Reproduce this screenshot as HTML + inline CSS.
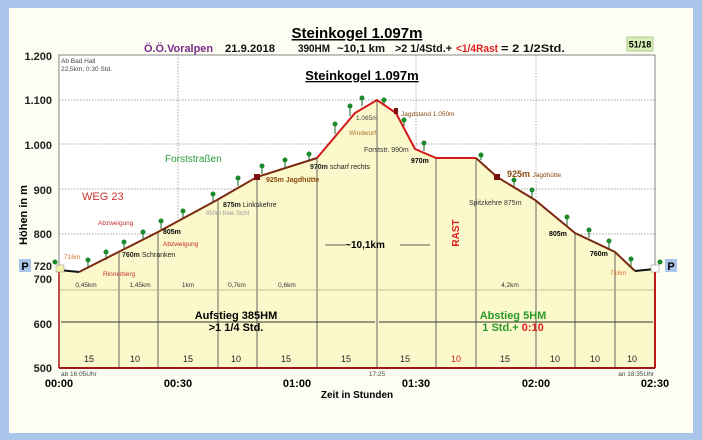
<!DOCTYPE html>
<html><head><meta charset="utf-8"><style>
html,body{margin:0;padding:0;background:#a9c6ea;}
svg{display:block;font-family:"Liberation Sans",sans-serif;}
</style></head><body>
<svg width="702" height="440" viewBox="0 0 702 440" xmlns="http://www.w3.org/2000/svg">
<rect x="0" y="0" width="702" height="440" fill="#a9c6ea"/>
<rect x="9" y="8" width="684" height="425" fill="#fdfdf3"/>
<rect x="59" y="55" width="596" height="313" fill="#fff" stroke="#666" stroke-width="0.8"/>
<g stroke="#888" stroke-width="0.7" stroke-dasharray="1.5,1.5">
<line x1="59" y1="100" x2="655" y2="100"/>
<line x1="59" y1="144" x2="655" y2="144"/>
<line x1="59" y1="189" x2="655" y2="189"/>
<line x1="59" y1="234" x2="655" y2="234"/>
<line x1="178" y1="55" x2="178" y2="368"/>
<line x1="416" y1="55" x2="416" y2="368"/>
<line x1="536" y1="55" x2="536" y2="368"/>
</g>
<polygon fill="#fbf8cb" points="59,270 79,272 158,232 217,200 257,177 317,158 355,113 377,100 396,113 415,149 436,158 476,158 497,177 535,200 575,233 615,252 635,271 655,269 655,368 59,368"/>
<g stroke="#555" stroke-width="0.9">
<line x1="119" y1="252" x2="119" y2="368"/>
<line x1="158" y1="232" x2="158" y2="368"/>
<line x1="218" y1="200" x2="218" y2="368"/>
<line x1="257" y1="177" x2="257" y2="368"/>
<line x1="317" y1="158" x2="317" y2="368"/>
<line x1="377" y1="100" x2="377" y2="368"/>
<line x1="436" y1="158" x2="436" y2="368"/>
<line x1="476" y1="158" x2="476" y2="368"/>
<line x1="536" y1="201" x2="536" y2="368"/>
<line x1="575" y1="233" x2="575" y2="368"/>
<line x1="615" y1="252" x2="615" y2="368"/>
</g>
<line x1="59" y1="290" x2="655" y2="290" stroke="#b5b08a" stroke-width="0.8"/>
<line x1="61" y1="322" x2="375" y2="322" stroke="#333" stroke-width="0.9"/>
<line x1="379" y1="322" x2="653" y2="322" stroke="#333" stroke-width="0.9"/>
<g stroke="#1a6a2a" stroke-width="1">
<line x1="88" y1="260" x2="88" y2="268"/><line x1="106" y1="252" x2="106" y2="260"/><line x1="124" y1="242" x2="124" y2="250"/><line x1="143" y1="232" x2="143" y2="240"/><line x1="161" y1="221" x2="161" y2="229"/><line x1="183" y1="211" x2="183" y2="219"/><line x1="213" y1="194" x2="213" y2="202"/><line x1="238" y1="178" x2="238" y2="186"/><line x1="262" y1="166" x2="262" y2="174"/><line x1="285" y1="160" x2="285" y2="168"/><line x1="309" y1="154" x2="309" y2="161"/><line x1="335" y1="124" x2="335" y2="134"/><line x1="350" y1="106" x2="350" y2="116"/><line x1="362" y1="98" x2="362" y2="106"/><line x1="384" y1="100" x2="384" y2="106"/><line x1="404" y1="120" x2="404" y2="126"/><line x1="424" y1="143" x2="424" y2="151"/><line x1="481" y1="155" x2="481" y2="160"/><line x1="514" y1="180" x2="514" y2="187"/><line x1="532" y1="190" x2="532" y2="197"/><line x1="567" y1="217" x2="567" y2="226"/><line x1="589" y1="230" x2="589" y2="238"/><line x1="609" y1="241" x2="609" y2="249"/><line x1="631" y1="259" x2="631" y2="267"/>
</g>
<polyline fill="none" stroke="#111" stroke-width="2" points="59,270 79,272"/>
<polyline fill="none" stroke="#7a2a10" stroke-width="2" points="79,272 158,232 217,200 257,177 317,158"/>
<polyline fill="none" stroke="#d21818" stroke-width="2" points="317,158 355,113 377,100 396,113 415,149 436,158 476,158"/>
<polyline fill="none" stroke="#7a2a10" stroke-width="2" points="476,158 497,177 535,200 575,233 615,252 635,271"/>
<polyline fill="none" stroke="#111" stroke-width="2" points="635,271 655,269"/>
<line x1="655" y1="269" x2="655" y2="368" stroke="#c01818" stroke-width="2"/>
<line x1="59" y1="270" x2="59" y2="368" stroke="#a01818" stroke-width="1.5"/>
<line x1="59" y1="368" x2="655" y2="368" stroke="#a01818" stroke-width="2"/>
<rect x="254" y="174" width="6" height="6" fill="#7a1010"/>
<rect x="494" y="174" width="6" height="6" fill="#7a1010"/>
<rect x="394" y="108" width="4" height="6" fill="#7a1010"/>
<rect x="56" y="265" width="8" height="7" fill="#f5f0b0" stroke="#888" stroke-width="0.5"/>
<rect x="651" y="265" width="8" height="7" fill="#fff" stroke="#888" stroke-width="0.5"/>
<g fill="#1a8a2a">
<circle cx="88" cy="260" r="2.5"/><circle cx="106" cy="252" r="2.5"/><circle cx="124" cy="242" r="2.5"/><circle cx="143" cy="232" r="2.5"/><circle cx="161" cy="221" r="2.5"/><circle cx="183" cy="211" r="2.5"/><circle cx="213" cy="194" r="2.5"/><circle cx="238" cy="178" r="2.5"/><circle cx="262" cy="166" r="2.5"/><circle cx="285" cy="160" r="2.5"/><circle cx="309" cy="154" r="2.5"/><circle cx="335" cy="124" r="2.5"/><circle cx="350" cy="106" r="2.5"/><circle cx="362" cy="98" r="2.5"/><circle cx="384" cy="100" r="2.5"/><circle cx="404" cy="120" r="2.5"/><circle cx="424" cy="143" r="2.5"/><circle cx="481" cy="155" r="2.5"/><circle cx="514" cy="180" r="2.5"/><circle cx="532" cy="190" r="2.5"/><circle cx="567" cy="217" r="2.5"/><circle cx="589" cy="230" r="2.5"/><circle cx="609" cy="241" r="2.5"/><circle cx="631" cy="259" r="2.5"/><circle cx="660" cy="262" r="2.5"/><circle cx="55" cy="262" r="2.5"/>
</g>
<text x="357" y="38" font-size="15" font-weight="bold" text-anchor="middle" text-decoration="underline">Steinkogel 1.097m</text>
<g font-size="11" font-weight="bold" fill="#111">
<text x="144" y="52" fill="#7a2a8a" textLength="69" lengthAdjust="spacingAndGlyphs">Ö.Ö.Voralpen</text>
<text x="225" y="52" textLength="50" lengthAdjust="spacingAndGlyphs">21.9.2018</text>
<text x="298" y="52" textLength="32" lengthAdjust="spacingAndGlyphs">390HM</text>
<text x="337" y="52" textLength="48" lengthAdjust="spacingAndGlyphs">~10,1 km</text>
<text x="395" y="52" textLength="57" lengthAdjust="spacingAndGlyphs">&gt;2 1/4Std.+</text>
<text x="456" y="52" fill="#e02020" textLength="42" lengthAdjust="spacingAndGlyphs">&lt;1/4Rast</text>
<text x="501" y="52" textLength="64" lengthAdjust="spacingAndGlyphs">= 2 1/2Std.</text>
</g>
<rect x="627" y="37" width="26" height="14" fill="#d8f0b8" stroke="#9ab870" stroke-width="0.8" rx="1"/>
<text x="640" y="47.5" font-size="9" font-weight="bold" text-anchor="middle">51/18</text>
<text x="362" y="80" font-size="13" font-weight="bold" text-anchor="middle" text-decoration="underline">Steinkogel 1.097m</text>
<text x="61" y="63" font-size="6.5" fill="#444">Ab Bad Hall</text>
<text x="61" y="71" font-size="6.5" fill="#444">22,5km; 0:30 Std.</text>
<g font-size="11" font-weight="bold" text-anchor="end" fill="#222">
<text x="52" y="60">1.200</text><text x="52" y="104">1.100</text><text x="52" y="149">1.000</text><text x="52" y="194">900</text><text x="52" y="238">800</text><text x="52" y="270">720</text><text x="52" y="283">700</text><text x="52" y="328">600</text><text x="52" y="372">500</text>
</g>
<text transform="translate(27,215) rotate(-90)" font-size="11" font-weight="bold" text-anchor="middle">Höhen in m</text>
<rect x="19" y="259" width="12" height="13" fill="#a9c6ea"/><text x="25" y="270" font-size="11" font-weight="bold" text-anchor="middle">P</text>
<rect x="665" y="259" width="12" height="13" fill="#a9c6ea"/><text x="671" y="270" font-size="11" font-weight="bold" text-anchor="middle">P</text>
<g font-size="11" font-weight="bold" text-anchor="middle">
<text x="59" y="387">00:00</text><text x="178" y="387">00:30</text><text x="297" y="387">01:00</text><text x="416" y="387">01:30</text><text x="536" y="387">02:00</text><text x="655" y="387">02:30</text>
<text x="357" y="398" font-size="10">Zeit in Stunden</text>
</g>
<g font-size="6.5" fill="#444">
<text x="61" y="376">ab 16:05Uhr</text><text x="377" y="376" text-anchor="middle">17:25</text><text x="654" y="376" text-anchor="end">an 18:35Uhr</text>
</g>
<g font-size="9" text-anchor="middle" fill="#222">
<text x="89" y="362">15</text><text x="135" y="362">10</text><text x="188" y="362">15</text><text x="236" y="362">10</text><text x="286" y="362">15</text><text x="346" y="362">15</text><text x="405" y="362">15</text><text x="456" y="362" fill="#d02020">10</text><text x="505" y="362">15</text><text x="555" y="362">10</text><text x="595" y="362">10</text><text x="632" y="362">10</text>
</g>
<g font-size="6.5" fill="#333" text-anchor="middle">
<text x="86" y="287">0,45km</text><text x="140" y="287">1,45km</text><text x="188" y="287">1km</text><text x="237" y="287">0,7km</text><text x="287" y="287">0,6km</text><text x="510" y="287">4,2km</text>
</g>
<text x="236" y="319" font-size="11" font-weight="bold" text-anchor="middle">Aufstieg 385HM</text>
<text x="236" y="331" font-size="11" font-weight="bold" text-anchor="middle">&gt;1 1/4 Std.</text>
<text x="513" y="319" font-size="11" font-weight="bold" text-anchor="middle" fill="#2a9a2a">Abstieg 5HM</text>
<text x="513" y="331" font-size="11" font-weight="bold" text-anchor="middle"><tspan fill="#2a9a2a">1 Std.+ </tspan><tspan fill="#e02020">0:10</tspan></text>
<g stroke="#333" stroke-width="0.8"><line x1="325" y1="245" x2="345" y2="245"/><line x1="400" y1="245" x2="430" y2="245"/></g>
<text x="365" y="248" font-size="10" font-weight="bold" text-anchor="middle">~10,1km</text>
<text transform="translate(459,233) rotate(-90)" font-size="10" font-weight="bold" fill="#e02020" text-anchor="middle">RAST</text>
<text x="165" y="162" font-size="10" fill="#2a9a3a">Forststraßen</text>
<text x="82" y="200" font-size="11" fill="#d03030">WEG 23</text>
<text x="98" y="225" font-size="6.5" fill="#c03030">Abzweigung</text>
<text x="163" y="246" font-size="6.5" fill="#c03030">Abzweigung</text>
<text x="64" y="259" font-size="6.5" fill="#e07030">716m</text>
<text x="103" y="276" font-size="6.5" fill="#c03030">Rinnerberg</text>
<text x="122" y="257" font-size="7" fill="#222"><tspan font-weight="bold">760m</tspan> Schranken</text>
<text x="163" y="234" font-size="7" font-weight="bold">805m</text>
<text x="223" y="207" font-size="7" fill="#222"><tspan font-weight="bold">875m</tspan> Linkskehre</text>
<text x="206" y="215" font-size="6" fill="#999">850m freie Sicht</text>
<text x="266" y="182" font-size="7" font-weight="bold" fill="#8a4a10">925m Jagdhütte</text>
<text x="310" y="169" font-size="7" fill="#222"><tspan font-weight="bold">970m</tspan> scharf rechts</text>
<text x="356" y="120" font-size="6.5" fill="#444">1.065m</text>
<text x="349" y="135" font-size="6.5" fill="#b07030">Windwurf</text>
<text x="401" y="116" font-size="6.5" fill="#8a4a10">Jagdstand 1.050m</text>
<text x="364" y="152" font-size="7" fill="#333">Forststr. 990m</text>
<text x="411" y="163" font-size="7" font-weight="bold">970m</text>
<text x="507" y="177" font-size="9" font-weight="bold" fill="#8a4a10">925m <tspan font-size="6.5" font-weight="normal">Jagdhütte</tspan></text>
<text x="469" y="205" font-size="7" fill="#333">Spitzkehre 875m</text>
<text x="549" y="236" font-size="7" font-weight="bold">805m</text>
<text x="590" y="256" font-size="7" font-weight="bold">760m</text>
<text x="610" y="275" font-size="6.5" fill="#e07030">716m</text>
</svg>
</body></html>
